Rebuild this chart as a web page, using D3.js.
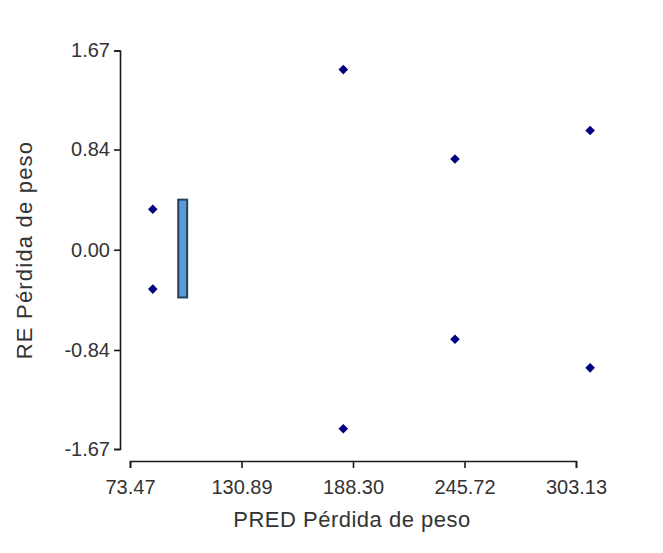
<!DOCTYPE html>
<html>
<head>
<meta charset="utf-8">
<script src="https://cdn.jsdelivr.net/npm/d3@7"></script>
<style>
  body { margin: 0; background: #fff; }
  svg { display: block; font-family: "Liberation Sans", Arial, sans-serif; }
  .axis path, .axis line { stroke: #1a1a1a; stroke-width: 1.6px; }
  .axis text { fill: #333; font-size: 20px; }
  .title { fill: #333; font-size: 22px; }
</style>
</head>
<body>
<script>
// data
var predValues = [85.2, 85.2, 183.3, 183.3, 240.8, 240.8, 310.4, 310.4];
var reValues = [0.34, -0.33, 1.51, -1.50, 0.76, -0.75, 1.00, -0.99];
var xTicks = [73.47, 130.89, 188.30, 245.72, 303.13];
var yTicks = [-1.67, -0.84, 0.00, 0.84, 1.67];
var barPred = [98.3, 102.9];
var barRe = [-0.40, 0.42];

var width = 663, height = 553;

// plain hyphen for negatives, like the original
var fmt = function(d){ return d.toFixed(2); };

var svg = d3.select("body").append("svg")
	.attr("width", width)
	.attr("height", height);

var x = d3.scaleLinear().domain([73.47, 303.13]).range([130, 576]);
var y = d3.scaleLinear().domain([-1.67, 1.67]).range([449, 50.5]);

// y axis
var yAxis = d3.axisLeft(y)
	.tickValues(yTicks)
	.tickSize(6)
	.tickSizeOuter(6)
	.tickPadding(4)
	.tickFormat(fmt);
svg.append("g")
	.attr("class", "axis")
	.attr("transform", "translate(120,0)")
	.call(yAxis);

// x axis
var xAxis = d3.axisBottom(x)
	.tickValues(xTicks)
	.tickSize(7)
	.tickSizeOuter(7)
	.tickPadding(12)
	.tickFormat(fmt);
svg.append("g")
	.attr("class", "axis")
	.attr("transform", "translate(0,461)")
	.call(xAxis);

// the blue box
svg.append("rect")
	.attr("x", x(barPred[0]))
	.attr("y", y(barRe[1]))
	.attr("width", x(barPred[1]) - x(barPred[0]))
	.attr("height", y(barRe[0]) - y(barRe[1]))
	.attr("fill", "#5b9bd5")
	.attr("stroke", "#26405e")
	.attr("stroke-width", 2);

// points
var pts = predValues.map(function(p, i){ return {pred: p, re: reValues[i]}; });
svg.selectAll("path.pt")
	.data(pts)
	.enter().append("path")
	.attr("class", "pt")
	.attr("d", d3.symbol().type(d3.symbolSquare).size(46))
	.attr("transform", function(d){ return "translate(" + x(d.pred) + "," + y(d.re) + ") rotate(45)"; })
	.attr("fill", "#000080");

// axis titles
svg.append("text")
	.attr("class", "title")
	.attr("x", 352)
	.attr("y", 527)
	.attr("text-anchor", "middle")
	.style("letter-spacing", "0.5px")
	.text("PRED Pérdida de peso");

svg.append("text")
	.attr("class", "title")
	.attr("transform", "translate(32,250) rotate(-90)")
	.attr("text-anchor", "middle")
	.style("letter-spacing", "1.2px")
	.text("RE Pérdida de peso");
</script>
</body>
</html>
